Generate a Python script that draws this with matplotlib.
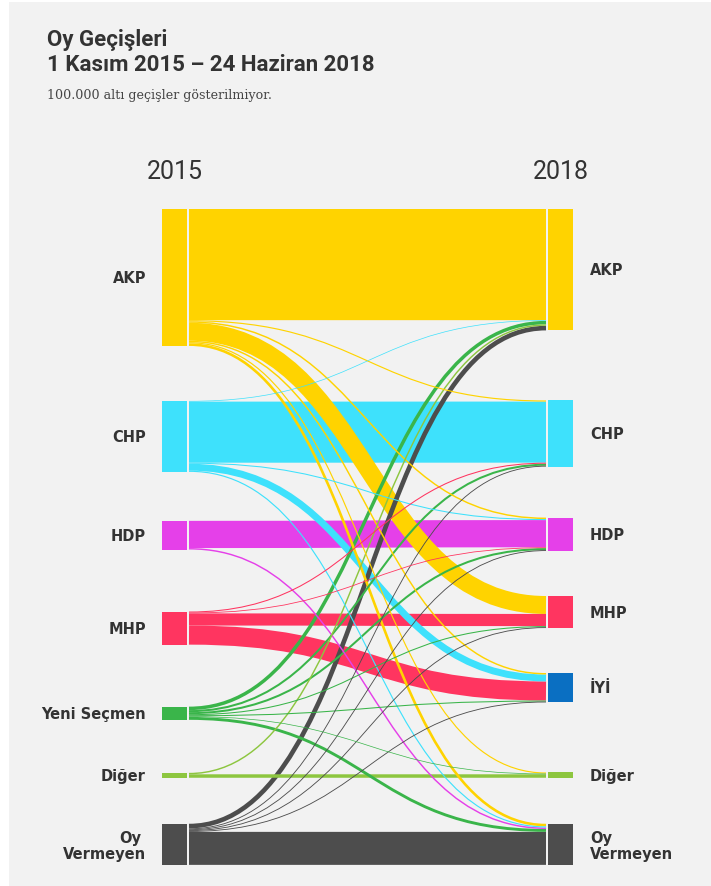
import matplotlib
matplotlib.use("Agg")
import matplotlib.pyplot as plt
from matplotlib.path import Path
from matplotlib.patches import PathPatch, Rectangle

# ---------------- data (millions of votes) ----------------
left_nodes = ["AKP", "CHP", "HDP", "MHP", "Yeni Seçmen", "Diğer", "Oy Vermeyen"]
right_nodes = ["AKP", "CHP", "HDP", "MHP", "İYİ", "Diğer", "Oy Vermeyen"]
left_colors = ["#FFD300", "#3EE1FC", "#E540E9", "#FF3560", "#3AB54A", "#8DC63F", "#4D4D4D"]
right_colors = ["#FFD300", "#3EE1FC", "#E540E9", "#FF3560", "#0A6FC2", "#8DC63F", "#4D4D4D"]

flow_source = ["AKP", "AKP", "AKP", "AKP", "AKP", "AKP", "AKP",
               "CHP", "CHP", "CHP", "CHP", "CHP",
               "HDP", "HDP",
               "MHP", "MHP", "MHP", "MHP",
               "Yeni Seçmen", "Yeni Seçmen", "Yeni Seçmen", "Yeni Seçmen",
               "Yeni Seçmen", "Yeni Seçmen", "Yeni Seçmen",
               "Diğer", "Diğer",
               "Oy Vermeyen", "Oy Vermeyen", "Oy Vermeyen", "Oy Vermeyen",
               "Oy Vermeyen", "Oy Vermeyen"]
flow_target = ["AKP", "CHP", "HDP", "MHP", "İYİ", "Diğer", "Oy Vermeyen",
               "AKP", "CHP", "HDP", "İYİ", "Oy Vermeyen",
               "HDP", "Oy Vermeyen",
               "CHP", "HDP", "MHP", "İYİ",
               "AKP", "CHP", "HDP", "MHP",
               "İYİ", "Diğer", "Oy Vermeyen",
               "AKP", "Diğer",
               "AKP", "CHP", "HDP", "MHP",
               "İYİ", "Oy Vermeyen"]
flow_value = [19.2, 0.2, 0.25, 3.1, 0.25, 0.2, 0.45,
              0.12, 10.55, 0.18, 1.2, 0.2,
              4.7, 0.25,
              0.18, 0.14, 2.1, 3.3,
              0.6, 0.35, 0.35, 0.18,
              0.18, 0.12, 0.5,
              0.25, 0.6,
              0.8, 0.15, 0.15, 0.15,
              0.15, 5.7]

title1 = "Oy Geçişleri"
title2 = "1 Kasım 2015 – 24 Haziran 2018"
subtitle = "100.000 altı geçişler gösterilmiyor."
year_left, year_right = "2015", "2018"

# ---------------- layout ----------------
W, H = 711, 887
PX_PER_M = 5.79
TOP = 210
left_gaps = [55, 49, 62, 62, 53, 46]
right_gaps = [70, 51, 45, 45, 70, 46]
XL0, XL1 = 162, 187      # left node bar
XR0, XR1 = 548, 573      # right node bar
FX0, FX1 = 189, 546      # flow ends
TXT = "#333333"
BG = "#F2F2F2"

fig = plt.figure(figsize=(W / 100, H / 100), dpi=100)
fig.patch.set_facecolor("white")
ax = fig.add_axes([0, 0, 1, 1])
ax.set_xlim(0, W)
ax.set_ylim(H, 0)
ax.axis("off")
ax.add_patch(Rectangle((9, 3), W - 9, H - 3, facecolor=BG, edgecolor="none", zorder=0))

def totals(nodes, key):
    out = []
    for n in nodes:
        out.append(sum(v for s, t, v in zip(flow_source, flow_target, flow_value)
                       if (s if key == "s" else t) == n))
    return out

def tops(vals, gaps):
    res = [TOP]
    for v, g in zip(vals[:-1], gaps):
        res.append(res[-1] + v * PX_PER_M + g)
    return res

lt = totals(left_nodes, "s")
rt = totals(right_nodes, "t")
ltop = tops(lt, left_gaps)
rtop = tops(rt, right_gaps)

# link offsets
n = len(flow_value)
src_idx = [left_nodes.index(s) for s in flow_source]
tgt_idx = [right_nodes.index(t) for t in flow_target]
y_src = [0.0] * n
y_tgt = [0.0] * n
for i, _ in enumerate(left_nodes):
    links = sorted([k for k in range(n) if src_idx[k] == i], key=lambda k: tgt_idx[k])
    off = ltop[i]
    for k in links:
        w = flow_value[k] * PX_PER_M
        y_src[k] = off + w / 2
        off += w
for j, _ in enumerate(right_nodes):
    links = sorted([k for k in range(n) if tgt_idx[k] == j], key=lambda k: src_idx[k])
    off = rtop[j]
    for k in links:
        w = flow_value[k] * PX_PER_M
        y_tgt[k] = off + w / 2
        off += w

xm = (FX0 + FX1) / 2
order = sorted(range(n), key=lambda k: -flow_value[k])
for z, k in enumerate(order):
    y0, y1 = y_src[k], y_tgt[k]
    path = Path([(FX0, y0), (xm, y0), (xm, y1), (FX1, y1)],
                [Path.MOVETO, Path.CURVE4, Path.CURVE4, Path.CURVE4])
    lw = flow_value[k] * PX_PER_M * 72 / 100
    ax.add_patch(PathPatch(path, fill=False, edgecolor=left_colors[src_idx[k]],
                           lw=lw, capstyle="butt", zorder=2 + z * 0.01))

# nodes
lab_font = dict(family="DejaVu Sans", fontweight="bold", fontsize=10.5, color=TXT)
for i, name in enumerate(left_nodes):
    h = lt[i] * PX_PER_M
    ax.add_patch(Rectangle((XL0, ltop[i]), XL1 - XL0, h, facecolor=left_colors[i],
                           edgecolor="none", zorder=5))
    cy = ltop[i] + h / 2
    if name == "Oy Vermeyen":
        ax.text(141, cy - 7, "Oy", ha="right", va="center", **lab_font)
        ax.text(146, cy + 9, "Vermeyen", ha="right", va="center", **lab_font)
    else:
        ax.text(146, cy, name, ha="right", va="center", **lab_font)
for j, name in enumerate(right_nodes):
    h = rt[j] * PX_PER_M
    ax.add_patch(Rectangle((XR0, rtop[j]), XR1 - XR0, h, facecolor=right_colors[j],
                           edgecolor="none", zorder=5))
    cy = rtop[j] + h / 2
    if name == "Oy Vermeyen":
        ax.text(590, cy - 7, "Oy", ha="left", va="center", **lab_font)
        ax.text(590, cy + 9, "Vermeyen", ha="left", va="center", **lab_font)
    else:
        ax.text(590, cy, name, ha="left", va="center", **lab_font)

# years
ax.text((XL0 + XL1) / 2, 172, year_left, ha="center", va="center",
        family="Roboto", fontsize=18, color=TXT)
ax.text((XR0 + XR1) / 2, 172, year_right, ha="center", va="center",
        family="Roboto", fontsize=18, color=TXT)

# titles
ax.text(47, 46, title1, ha="left", va="baseline", family="Roboto",
        fontweight="bold", fontsize=16, color=TXT)
ax.text(47, 71, title2, ha="left", va="baseline", family="Roboto",
        fontweight="bold", fontsize=16, color=TXT)
ax.text(47, 99, subtitle, ha="left", va="baseline", family="DejaVu Serif",
        fontsize=9.1, color="#444444")

fig.savefig("out.png", dpi=100, facecolor=fig.get_facecolor())
